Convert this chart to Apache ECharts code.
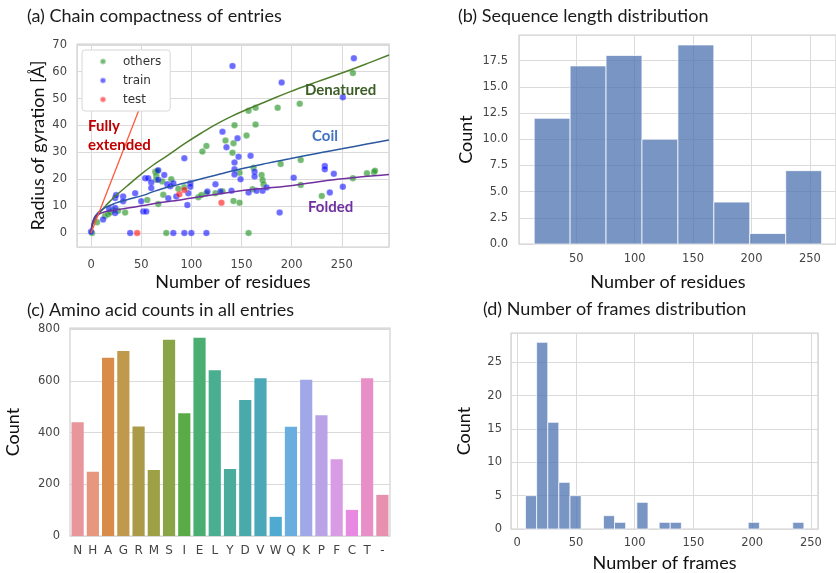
<!DOCTYPE html>
<html>
<head>
<meta charset="utf-8">
<script src="https://cdn.jsdelivr.net/npm/echarts@6/dist/echarts.min.js"></script>
<style>
  html, body { margin: 0; padding: 0; background: #fff; }
  #chart { width: 836px; height: 573px; }
</style>
</head>
<body>
<div id="chart"></div>
<script>
// (a) radius of gyration vs number of residues, [N, Rg]
const othersPts = [[1,0],[6,4],[14,6.3],[17,7],[19,7.6],[22,8.5],[27,8.3],[34,7.6],[56,12.3],[64,22.8],[65,21.4],[66,23.1],[65,19.8],[67,10.8],[71,19.2],[72,14.2],[75,0],[80,20],[87,16.5],[93,17],[107,13.3],[110,14.1],[111,30.3],[115,14.8],[115,32.4],[124,14.8],[131,15.5],[134,34.4],[141,29.9],[142,33.4],[143,40.1],[142,11.9],[148,11.3],[148,22.4],[155,36.3],[157,45.5],[157,0],[161,16.3],[164,46.6],[164,40.4],[162,24.3],[170,21.6],[171,19.7],[172,18.1],[186,46.6],[189,25.7],[208,48.1],[209,27.2],[209,17.9],[230,13.8],[261,59.5],[261,20.4],[275,22.2],[282,22.6],[283,23.2]];
const trainPts = [[0,0.5],[12,5],[18,9],[24,9.3],[24,13],[25,14.1],[24,7.4],[32,13.6],[32,11.8],[39,0],[44,14.8],[50,11.8],[52,8],[55,8],[54,20.4],[57,20.4],[60,18.8],[60,16.7],[67,23.3],[67,19.8],[73,21.6],[76,18.1],[77,12.9],[79,17.4],[82,18.5],[82,0],[85,13.6],[93,27.8],[93,0],[97,14.8],[96,10.4],[99,18.5],[99,17.2],[100,0],[115,0],[116,15.4],[124,18.1],[129,15.4],[131,37.7],[135,31.9],[140,15.7],[141,62.1],[143,26.2],[143,23.7],[143,21.8],[146,35.2],[147,28.4],[149,20],[157,15.1],[159,28.7],[163,22.8],[163,21],[165,15.7],[171,15.7],[175,16.9],[188,7.6],[190,56],[202,20.6],[233,24.9],[233,23.7],[242,22],[238,15.1],[251,17.2],[251,50.5],[262,65]];
const testPts = [[46,0],[88,14.4],[93,16],[130,11.3]];

// reference curves
const denaturedCurve = [[0,0],[1,2.4],[3,4.3],[6,6.2],[10,8.2],[15,10.3],[20,12.2],[25,14],[35,17.2],[50,21.9],[62,25.3],[75,28.5],[94,33.4],[110,37.2],[125,40.5],[140,43.4],[157,46.2],[175,49],[198,52.5],[225,56.2],[250,59.5],[275,63],[297,66.2]];
const coilCurve = [[0,0],[1,3],[3,5.5],[6,7.2],[10,8.4],[15,9.6],[20,10.4],[25,11.2],[35,12.3],[52,14],[62,15.4],[75,16.9],[87,18],[99,19.1],[125,21.6],[150,23.9],[175,25.9],[198,27.6],[225,29.6],[250,31.3],[275,33.1],[297,34.6]];
const foldedCurve = [[0,0],[1,3.2],[3,5.3],[6,6.6],[10,7.4],[15,8],[20,8.3],[27,8.7],[40,9.5],[52,10.2],[62,10.9],[75,11.6],[87,12.2],[99,12.9],[125,14.4],[151,15.8],[172,16.6],[194,17.4],[218,18.6],[242,19.8],[270,20.9],[297,21.8]];
const extendedLine = [[0,0],[48,46]];

// (b) sequence length histogram
const lenEdges = [14, 44.75, 75.5, 106.25, 137, 167.75, 198.5, 229.25, 260];
const lenCounts = [12, 17, 18, 10, 19, 4, 1, 7];

// (c) amino acid counts
const aminoAcids = ['N','H','A','G','R','M','S','I','E','L','Y','D','V','W','Q','K','P','F','C','T','-'];
const aminoCounts = [440, 248, 689, 715, 423, 255, 759, 474, 766, 641, 259, 526, 610, 74, 422, 604, 467, 297, 101, 610, 159];
const aminoColors = ['#e8959b','#e8977f','#d98c4a','#c09a4c','#ab9a48','#9da044','#8aa547','#5aab48','#4aae72','#4aae90','#4bab9c','#4aaaa9','#4ba8b8','#4eaad0','#6aaee0','#a0a8e8','#b9a2e6','#d99be4','#e98ae2','#e98fc7','#e890b0'];

// (d) number of frames histogram
const frameEdges = [7, 16.5, 26, 35.4, 44.9, 54.4, 63.9, 73.4, 82.8, 92.3, 101.8, 111.3, 120.8, 130.2, 139.7, 149.2, 158.7, 168.2, 177.6, 187.1, 196.6, 206.1, 215.6, 225, 234.5, 244];
const frameCounts = [5, 28, 16, 7, 5, 0, 0, 2, 1, 0, 4, 0, 1, 1, 0, 0, 0, 0, 0, 0, 1, 0, 0, 0, 1];

const tickFont = 'DejaVu Sans';
const labelFont = 'Lato';
const gridColor = '#dadada';

function histRows(edges, counts) {
  return counts.map((c, i) => [edges[i], edges[i + 1], c]);
}

function renderHist(params, api) {
  if (api.value(2) === 0) return null;
  const p0 = api.coord([api.value(0), 0]);
  const p1 = api.coord([api.value(1), api.value(2)]);
  return {
    type: 'rect',
    shape: { x: p0[0], y: p1[1], width: p1[0] - p0[0], height: p0[1] - p1[1] },
    style: { fill: '#4c72b0', opacity: 0.75, stroke: '#ffffff', lineWidth: 1 }
  };
}

function valAxis(grid, extra) {
  return Object.assign({
    type: 'value',
    gridIndex: grid,
    axisLine: { show: false },
    axisTick: { show: false },
    splitLine: { show: true, lineStyle: { color: gridColor, width: 1 } },
    axisLabel: { fontFamily: tickFont, fontSize: 11.5, color: '#444' },
    nameTextStyle: { fontFamily: labelFont, fontSize: 18, color: '#111' }
  }, extra);
}

function curve(data, color) {
  return {
    type: 'line', xAxisIndex: 0, yAxisIndex: 0, data: data, showSymbol: false,
    smooth: 0.4, z: 3, lineStyle: { color: color, width: 1.5 }
  };
}

const chart = echarts.init(document.getElementById('chart'));

const option = {
  animation: false,
  backgroundColor: '#fff',
  grid: [
    { left: 77, top: 44, width: 312, height: 203, show: true, borderColor: '#d0d0d0', borderWidth: 1.2 },
    { left: 519, top: 35, width: 322, height: 209, show: true, borderColor: '#d0d0d0', borderWidth: 1.2 },
    { left: 70, top: 328, width: 320, height: 208, show: true, borderColor: '#d0d0d0', borderWidth: 1.2 },
    { left: 511, top: 333, width: 307, height: 198, show: true, borderColor: '#d0d0d0', borderWidth: 1.2 }
  ],
  legend: {
    data: ['others', 'train', 'test'],
    orient: 'vertical',
    left: 82,
    top: 50,
    padding: [4, 9, 4, 17],
    itemWidth: 30,
    itemHeight: 6,
    itemGap: 4,
    icon: 'circle',
    backgroundColor: '#fff',
    borderColor: '#d8d8d8',
    borderWidth: 1,
    borderRadius: 3,
    textStyle: { fontFamily: tickFont, fontSize: 12, color: '#333', lineHeight: 15 }
  },
  xAxis: [
    valAxis(0, {
      min: -14, max: 297, splitNumber: 5,
      axisLabel: { fontFamily: tickFont, fontSize: 11.5, color: '#444', margin: 12, showMinLabel: false, showMaxLabel: false },
      name: 'Number of residues', nameLocation: 'middle', nameGap: 26
    }),
    valAxis(1, {
      min: 1, max: 272.3, splitNumber: 5,
      axisLabel: { fontFamily: tickFont, fontSize: 11.5, color: '#444', margin: 9, showMinLabel: false, showMaxLabel: false }
    }),
    {
      type: 'category',
      gridIndex: 2,
      data: aminoAcids,
      axisLine: { show: false },
      axisTick: { show: false },
      splitLine: { show: false },
      axisLabel: { fontFamily: tickFont, fontSize: 12, color: '#444', margin: 9, interval: 0 }
    },
    valAxis(3, {
      min: -5.3, max: 256, splitNumber: 5,
      axisLabel: { fontFamily: tickFont, fontSize: 11.5, color: '#444', margin: 8, showMinLabel: false, showMaxLabel: false },
      name: 'Number of frames', nameLocation: 'middle', nameGap: 25
    })
  ],
  yAxis: [
    valAxis(0, {
      min: -5.2, max: 70.3, splitNumber: 7,
      axisLabel: { fontFamily: tickFont, fontSize: 11.5, color: '#444', margin: 10, showMinLabel: false, showMaxLabel: false },
      name: 'Radius of gyration [Å]', nameLocation: 'middle', nameGap: 30, nameRotate: 90
    }),
    valAxis(1, {
      min: 0, max: 19.95, interval: 2.5,
      axisLabel: { fontFamily: tickFont, fontSize: 11.5, color: '#444', margin: 11, showMaxLabel: false, formatter: (v) => v.toFixed(1) },
      name: 'Count', nameLocation: 'middle', nameGap: 44, nameRotate: 90
    }),
    valAxis(2, {
      min: 0, max: 804, interval: 200,
      axisLabel: { fontFamily: tickFont, fontSize: 11.5, color: '#444', margin: 10, showMaxLabel: false },
      name: 'Count', nameLocation: 'middle', nameGap: 48, nameRotate: 90
    }),
    valAxis(3, {
      min: 0, max: 29.4, interval: 5,
      axisLabel: { fontFamily: tickFont, fontSize: 11.5, color: '#444', margin: 9, showMaxLabel: false },
      name: 'Count', nameLocation: 'middle', nameGap: 38, nameRotate: 90
    })
  ],
  series: [
    {
      name: 'others', type: 'scatter', xAxisIndex: 0, yAxisIndex: 0, data: othersPts,
      symbolSize: 6.5, z: 2,
      itemStyle: { color: 'rgba(30,145,30,0.78)', borderColor: 'rgba(255,255,255,0.6)', borderWidth: 0.5 }
    },
    {
      name: 'train', type: 'scatter', xAxisIndex: 0, yAxisIndex: 0, data: trainPts,
      symbolSize: 6.5, z: 2,
      itemStyle: { color: 'rgba(0,0,255,0.72)', borderColor: 'rgba(255,255,255,0.6)', borderWidth: 0.5 }
    },
    {
      name: 'test', type: 'scatter', xAxisIndex: 0, yAxisIndex: 0, data: testPts,
      symbolSize: 6.5, z: 2,
      itemStyle: { color: 'rgba(255,0,0,0.72)', borderColor: 'rgba(255,255,255,0.6)', borderWidth: 0.5 }
    },
    curve(denaturedCurve, '#4f7f2c'),
    curve(coilCurve, '#2b58a0'),
    curve(foldedCurve, '#7030a0'),
    {
      type: 'line', xAxisIndex: 0, yAxisIndex: 0, data: extendedLine, showSymbol: false,
      z: 3, lineStyle: { color: '#ff5a3c', width: 1.3 }
    },
    {
      type: 'custom', xAxisIndex: 1, yAxisIndex: 1, renderItem: renderHist,
      encode: { x: [0, 1], y: 2 }, data: histRows(lenEdges, lenCounts)
    },
    {
      type: 'bar', xAxisIndex: 2, yAxisIndex: 2, barCategoryGap: '20%',
      data: aminoCounts.map((v, i) => ({ value: v, itemStyle: { color: aminoColors[i] } }))
    },
    {
      type: 'custom', xAxisIndex: 3, yAxisIndex: 3, renderItem: renderHist,
      encode: { x: [0, 1], y: 2 }, data: histRows(frameEdges, frameCounts)
    }
  ],
  graphic: [
    { type: 'text', left: 27, top: 7, style: { text: '(a) Chain compactness of entries', font: '18px Lato', fill: '#1a1a1a' } },
    { type: 'text', left: 458, top: 7, style: { text: '(b) Sequence length distribution', font: '18px Lato', fill: '#1a1a1a' } },
    { type: 'text', left: 27, top: 301, style: { text: '(c) Amino acid counts in all entries', font: '18px Lato', fill: '#1a1a1a' } },
    { type: 'text', left: 483, top: 300, style: { text: '(d) Number of frames distribution', font: '18px Lato', fill: '#1a1a1a' } },
    { type: 'text', x: 668, y: 282, style: { text: 'Number of residues', font: '18px Lato', fill: '#111', align: 'center', verticalAlign: 'middle' } },
    { type: 'text', left: 88, top: 117, z: 10, style: { text: 'Fully\nextended', font: 'bold 15px Lato', lineHeight: 19, fill: '#c00000' } },
    { type: 'text', left: 305, top: 83, z: 10, style: { text: 'Denatured', font: 'bold 15px Lato', fill: '#3b5e26' } },
    { type: 'text', left: 312, top: 129, z: 10, style: { text: 'Coil', font: 'bold 15px Lato', fill: '#4472c4' } },
    { type: 'text', left: 308, top: 200, z: 10, style: { text: 'Folded', font: 'bold 15px Lato', fill: '#7030a0' } }
  ]
};

chart.setOption(option);
</script>
</body>
</html>
